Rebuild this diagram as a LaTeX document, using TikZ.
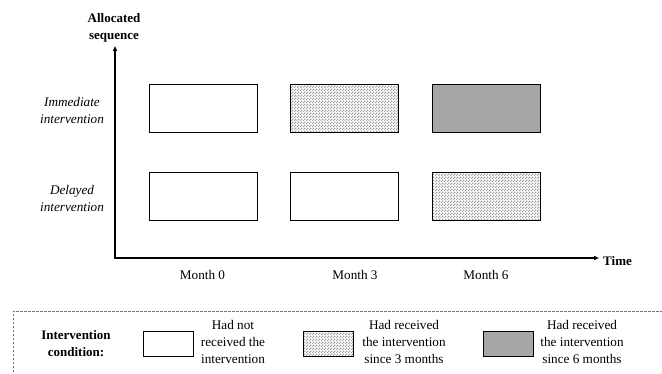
\documentclass[tikz,border=0pt]{standalone}
\usepackage{fontspec}
\setmainfont{Liberation Serif}
\usetikzlibrary{arrows.meta,patterns}
\pgfdeclarepatternformonly{finecheck}{\pgfpointorigin}{\pgfpoint{3pt}{3pt}}{\pgfpoint{3pt}{3pt}}{%
  \pgfpathrectangle{\pgfpointorigin}{\pgfpoint{1.5pt}{1.5pt}}%
  \pgfpathrectangle{\pgfpoint{1.5pt}{1.5pt}}{\pgfpoint{1.5pt}{1.5pt}}%
  \pgfusepath{fill}}
\tikzset{
  cell/.style={draw, line width=0.9pt, inner sep=0pt, minimum width=108pt, minimum height=48pt},
  keycell/.style={draw, line width=0.9pt, inner sep=0pt, minimum width=50pt, minimum height=25.5pt},
  none/.style={fill=white},
  three/.style={fill=white, pattern=finecheck, pattern color=black!38},
  six/.style={fill=black!35},
  lbl/.style={align=center, inner sep=0pt, font=\fontsize{13.2}{17}\selectfont},
}
\begin{document}
\begin{tikzpicture}[x=1pt, y=-1pt]
            \useasboundingbox (0,0) rectangle (662,373);
            % Axes
            \coordinate (O) at (115,258);
            \coordinate (ytip) at (115,46);
            \coordinate (xtip) at (599,258);
            \draw[line width=1.4pt, {Triangle[length=5pt,width=4pt]}-{Triangle[length=5pt,width=4pt]}] (ytip) -- (O) -- (xtip);
            \node[lbl, font=\fontsize{13}{17}\selectfont\bfseries] (seq) at (114,28) {Allocated\\sequence};
            \node[lbl, font=\fontsize{13}{17}\selectfont\bfseries, anchor=west] (time) at (603,261) {Time};

            % Rows
            \node[lbl, font=\fontsize{13.2}{17}\selectfont\itshape] (imm) at (72,110) {Immediate\\intervention};
            \node[lbl, font=\fontsize{13.2}{17}\selectfont\itshape] (del) at (72,198) {Delayed\\intervention};

            % Boxes
            \node[cell, none] (a0) at (203,108) {};
            \node[cell, three] (a3) at (344.5,108) {};
            \node[cell, six] (a6) at (486.5,108) {};
            \node[cell, none] (d0) at (203,196) {};
            \node[cell, none] (d3) at (344.5,196) {};
            \node[cell, three] (d6) at (486.5,196) {};

            % Months
            \node[lbl] (m0) at (202.5,275) {Month 0};
            \node[lbl] (m3) at (355,275) {Month 3};
            \node[lbl] (m6) at (486,275) {Month 6};

            % Legend
            \draw[black!55, line width=0.8pt, dash pattern=on 2.5pt off 1.5pt] (13,400) -- (13,311) -- (680,311);
            \node[lbl, font=\fontsize{13}{17}\selectfont\bfseries] (cond) at (76,344) {Intervention\\condition:};
            \node[keycell, none] (k0) at (168,344) {};
            \node[keycell, three] (k3) at (328.5,344) {};
            \node[keycell, six] (k6) at (508,344) {};
            \node[lbl] (t0) at (233,342) {Had not\\received the\\intervention};
            \node[lbl] (t3) at (404,342) {Had received\\the intervention\\since 3 months};
            \node[lbl] (t6) at (582,342) {Had received\\the intervention\\since 6 months};
        \end{tikzpicture}
\end{document}
